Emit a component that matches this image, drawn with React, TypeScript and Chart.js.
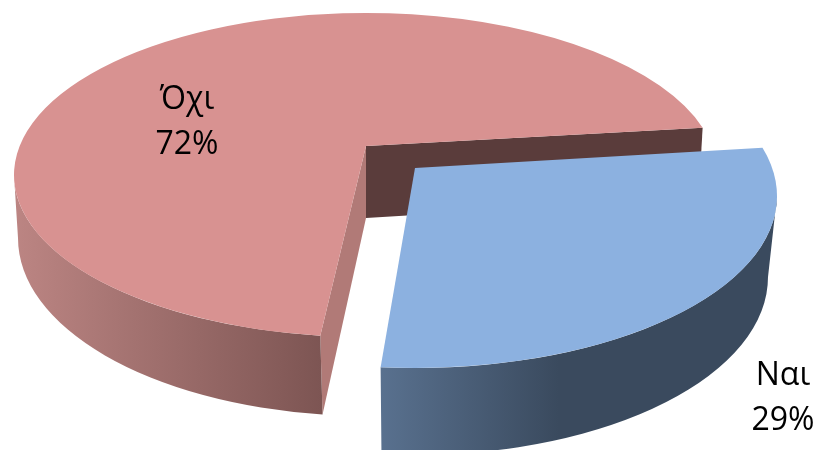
import React, { useEffect, useRef } from "react";
import { Chart, registerables } from "chart.js";

Chart.register(...registerables);

const categories = ["Ναι", "Όχι"];
const values = [29, 72];
const topColors = ["#8CB1E0", "#D89291"];

const RAD = Math.PI / 180;

// Projection of each slice of the pie onto the tilted 3D picture.
const projections = [
  {
    top: { cx: 415, cy: 196, rx: 362, ry: 172 },
    bottom: { cx: 415, cy: 277, rx: 353, ry: 178 },
    apex: [415, 168],
    skew: 4.3,
    shift: -0.4,
    label: [783, 376],
  },
  {
    top: { cx: 366, cy: 175, rx: 352, ry: 162 },
    bottom: { cx: 368, cy: 238, rx: 350, ry: 178 },
    apex: [366, 146],
    skew: 5.7,
    shift: 0.25,
    label: [187, 100],
  },
];

const project = (a: number, skew: number, shift: number) =>
  a + (skew * Math.sin(2 * (a - 40 * RAD)) + shift) * RAD;

const pie3d = {
  id: "pie3d",
  beforeDatasetsDraw(chart: any) {
    const { ctx } = chart;
    const arcs = chart.getDatasetMeta(0).data;
    const blueArc = arcs[0];
    const redArc = arcs[1];
    const [pb, pr] = projections;
    const rs = project(redArc.startAngle, pr.skew, pr.shift);
    const re = project(redArc.endAngle, pr.skew, pr.shift);
    const bs = project(blueArc.startAngle, pb.skew, pb.shift);
    const be = project(blueArc.endAngle, pb.skew, pb.shift);

    const pt = (e: any, a: number) => [e.cx + e.rx * Math.cos(a), e.cy + e.ry * Math.sin(a)];
    const fillPoly = (pts: number[][], color: string) => {
      ctx.beginPath();
      pts.forEach((p, i) => (i ? ctx.lineTo(p[0], p[1]) : ctx.moveTo(p[0], p[1])));
      ctx.closePath();
      ctx.fillStyle = color;
      ctx.fill();
    };
    const fillWall = (p: any, from: number, to: number, fill: any) => {
      ctx.beginPath();
      ctx.ellipse(p.top.cx, p.top.cy, p.top.rx, p.top.ry, 0, from, to);
      ctx.ellipse(p.bottom.cx, p.bottom.cy, p.bottom.rx, p.bottom.ry, 0, to, from, true);
      ctx.closePath();
      ctx.fillStyle = fill;
      ctx.fill();
    };
    const fillTop = (p: any, from: number, to: number, color: string) => {
      ctx.beginPath();
      ctx.moveTo(p.apex[0], p.apex[1]);
      ctx.ellipse(p.top.cx, p.top.cy, p.top.rx, p.top.ry, 0, from, to);
      ctx.closePath();
      ctx.fillStyle = color;
      ctx.fill();
    };

    ctx.save();

    // red slice: back cut face, front cut face, outer wall, top
    const rStartTop = pt(pr.top, rs);
    const rEndTop = pt(pr.top, re);
    const rStartBottom = pt(pr.bottom, rs);
    const inner = [pr.apex[0], pr.apex[1] + 72];
    const rEndBottom = [rEndTop[0] - 4, rEndTop[1] + 70];
    fillPoly([pr.apex, rEndTop, rEndBottom, inner], "#5A3C3B");
    fillPoly([pr.apex, rStartTop, rStartBottom, inner], "#B17A77");

    const redGrad = ctx.createLinearGradient(14, 0, 322, 0);
    redGrad.addColorStop(0, "#BC8583");
    redGrad.addColorStop(1, "#7D5553");
    fillWall(pr, rs, Math.PI, redGrad);
    fillTop(pr, rs, re, redArc.options.backgroundColor);

    // blue slice: outer wall, top
    const blueGrad = ctx.createLinearGradient(380, 0, 777, 0);
    blueGrad.addColorStop(0, "#59718F");
    blueGrad.addColorStop(0.45, "#3A4A5E");
    blueGrad.addColorStop(1, "#3A4A5E");
    fillWall(pb, 0, be, blueGrad);
    fillTop(pb, bs, be, blueArc.options.backgroundColor);

    // labels
    ctx.fillStyle = "#000000";
    ctx.font = '32px "Open Sans"';
    ctx.textAlign = "center";
    ctx.textBaseline = "middle";
    projections.forEach((p, i) => {
      ctx.fillText(categories[i], p.label[0], p.label[1]);
      ctx.fillText(`${values[i]}%`, p.label[0], p.label[1] + 45);
    });
    ctx.restore();
    return false;
  },
};

export default function App() {
  const ref = useRef<HTMLCanvasElement>(null);
  useEffect(() => {
    document.body.style.margin = "0";
    const chart = new Chart(ref.current!, {
      type: "pie",
      data: {
        labels: categories,
        datasets: [{ data: values, backgroundColor: topColors, borderWidth: 0 }],
      },
      options: {
        responsive: false,
        animation: false,
        rotation: 78.3,
        plugins: { legend: { display: false }, tooltip: { enabled: false } },
      },
      plugins: [pie3d],
    });
    return () => chart.destroy();
  }, []);
  return <canvas ref={ref} width={817} height={450} style={{ display: "block" }} />;
}
